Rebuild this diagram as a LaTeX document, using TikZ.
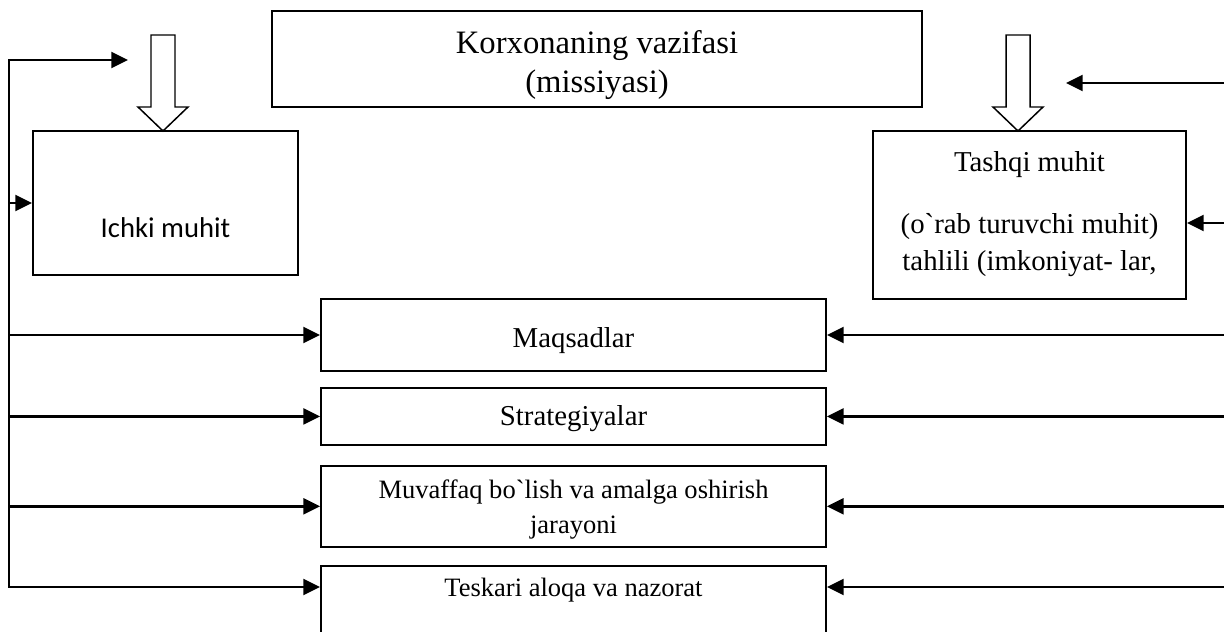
\documentclass[tikz,border=0pt]{standalone}
\usepackage{fontspec}
\setmainfont{Liberation Serif}[Ligatures=TeXOff]
\newfontfamily\ichkifont{Carlito}
\usetikzlibrary{positioning,arrows.meta}

\begin{document}
\begin{tikzpicture}[
    x=0.02cm, y=-0.02cm,
    flow/.tip={Triangle[length=9.5pt,width=9pt]},
    box/.style={draw, line width=1.1pt, inner sep=0pt, align=center, font=\fontsize{16.4}{21}\selectfont},
    midbox/.style={box, minimum width=10.1cm},
    small/.style={font=\fontsize{15.1}{19.8}\selectfont},
    arrow/.style={-flow, line width=1.5pt},
    hollow/.style={draw, line width=0.85pt, fill=white},
    node distance=0.3cm
]
\useasboundingbox (0,0) rectangle (1224,632);

% Top row
\node[box, minimum width=13cm, minimum height=1.92cm, font=\fontsize{18.6}{22.1}\selectfont] (mission) at (597,59) {\rule{0pt}{19.8pt}Korxonaning vazifasi\\(missiyasi)};
\node[box, minimum width=5.3cm, minimum height=2.88cm, text height=39.7pt, text depth=0pt, font=\ichkifont\fontsize{16.3}{18.7}\selectfont] (ichki) at (165.5,203) {Ichki muhit};
\node[box, minimum width=6.26cm, minimum height=3.36cm] (tashqi) at (1029.5,215) {Tashqi muhit\\[14.2pt](o`rab turuvchi muhit)\\tahlili (imkoniyat- lar,\rule[-4.5pt]{0pt}{4.5pt}};

% Middle stack
\node[midbox, minimum height=1.44cm, text height=14.7pt, text depth=0pt] (maq) at (573.5,335) {Maqsadlar};
\node[midbox, minimum height=1.14cm, text height=11.3pt, text depth=0.6pt, below=of maq] (strat) {Strategiyalar};
\node[midbox, small, minimum height=1.62cm, below=0.38cm of strat] (muv) {\rule{0pt}{14.2pt}Muvaffaq bo`lish va amalga oshirish\\jarayoni};
\node[midbox, small, minimum height=1.52cm, text height=11.3pt, text depth=19.2pt, below=0.34cm of muv] (tesk) {Teskari aloqa va nazorat};

% Hollow arrows
\coordinate (ltip) at (163,131);
\coordinate (rtip) at (1018,131);
\draw[hollow] (ltip) -- ++(-25,-24) -- ++(13,0) -- ++(0,-72) -- ++(24,0) -- ++(0,72) -- ++(13,0) -- cycle;
\draw[hollow] (rtip) -- ++(-25,-24) -- ++(13,0) -- ++(0,-72) -- ++(24,0) -- ++(0,72) -- ++(13,0) -- cycle;

% Left side
\coordinate (ltop) at (9,60);
\coordinate (lend) at (128,60);
\coordinate (lbot) at (9,587);
\draw[arrow, flow-flow] (lend) -- (ltop) -- (lbot) -- (lbot -| tesk.west);
\draw[arrow] (ichki.west -| ltop) -- (ichki.west);
\draw[arrow] (maq.west -| ltop) -- (maq.west);
\draw[arrow] (strat.west -| ltop) -- (strat.west);
\draw[arrow] (muv.west -| ltop) -- (muv.west);

% Right side
\coordinate (rtop) at (1226,83);
\coordinate (rend) at (1066,83);
\coordinate (rtashqi) at (1226,223);
\coordinate (rbot) at (1226,587);
\draw[arrow] (rtop) -- (rend);
\draw[arrow] (rtashqi) -- (rtashqi -| tashqi.east);
\draw[arrow] (maq.east -| rtop) -- (maq.east);
\draw[arrow] (strat.east -| rtop) -- (strat.east);
\draw[arrow] (muv.east -| rtop) -- (muv.east);
\draw[arrow] (rbot) -- (rbot -| tesk.east);
\end{tikzpicture}
\end{document}
